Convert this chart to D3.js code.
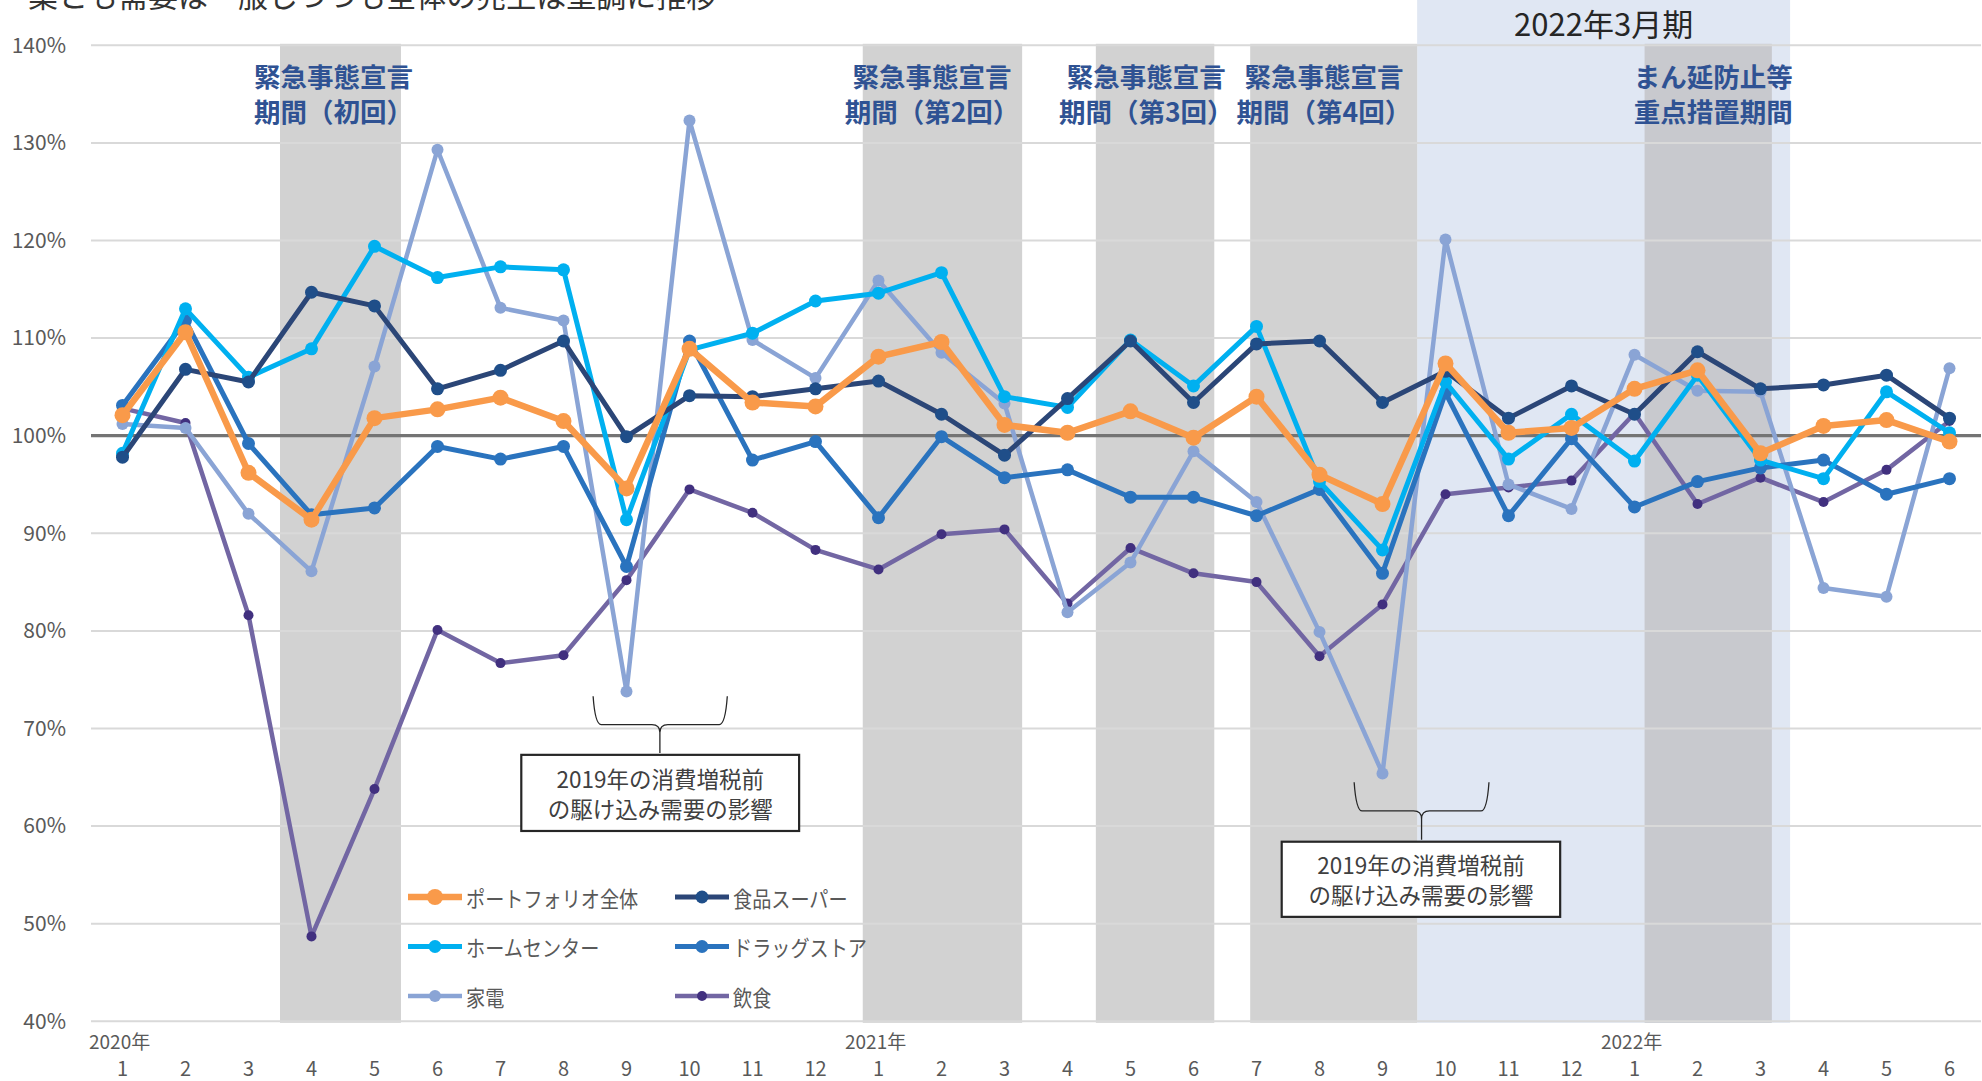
<!DOCTYPE html>
<html><head><meta charset="utf-8">
<script src="https://cdn.jsdelivr.net/npm/d3@7"></script>
<style>
html,body{margin:0;padding:0;background:#fff;}
svg{display:block;font-family:"Noto Sans CJK JP","Noto Sans",sans-serif;}
</style></head><body>
<svg id="chart" width="1982" height="1081"></svg>
<script>
// ---------------- data ----------------
const months = [1,2,3,4,5,6,7,8,9,10,11,12, 1,2,3,4,5,6,7,8,9,10,11,12, 1,2,3,4,5,6];
const yearLabels = [{index:0,label:"2020年"},{index:12,label:"2021年"},{index:24,label:"2022年"}];
const yTicks = [40,50,60,70,80,90,100,110,120,130,140];

const portfolio = [102.1,110.6,96.2,91.4,101.8,102.7,103.9,101.5,94.6,108.9,103.4,103.0,
                   108.1,109.6,101.1,100.3,102.5,99.8,104.0,96.0,93.0,107.4,100.3,100.8,
                   104.8,106.7,98.2,101.0,101.6,99.4];
const foodSuper = [97.8,106.8,105.5,114.7,113.3,104.8,106.7,109.7,99.9,104.1,104.0,104.8,
                   105.6,102.2,98.0,103.8,109.7,103.4,109.4,109.7,103.4,106.6,101.8,105.1,
                   102.2,108.6,104.8,105.2,106.2,101.8];
const homeCenter = [98.2,113.0,106.0,108.9,119.4,116.2,117.3,117.0,91.4,108.8,110.5,113.8,
                    114.6,116.7,104.0,102.9,109.8,105.1,111.2,95.3,88.3,105.5,97.6,102.2,
                    97.4,106.2,97.5,95.6,104.5,100.3];
const drugStore = [103.1,111.8,99.2,91.9,92.6,98.9,97.6,98.9,86.6,109.7,97.5,99.4,
                   91.6,99.9,95.7,96.5,93.7,93.7,91.8,94.5,85.9,104.4,91.8,99.7,
                   92.7,95.3,96.7,97.5,94.0,95.6];
const appliances = [101.2,100.8,92.0,86.1,107.1,129.3,113.1,111.8,73.8,132.3,109.8,105.9,
                    115.9,108.5,103.3,81.9,87.0,98.4,93.2,79.9,65.4,120.1,95.0,92.5,
                    108.3,104.6,104.5,84.4,83.5,106.9];
const restaurants = [102.8,101.3,81.6,48.7,63.8,80.1,76.7,77.5,85.2,94.5,92.1,88.3,
                     86.3,89.9,90.4,82.8,88.5,85.9,85.0,77.4,82.7,94.0,94.7,95.4,
                     102.3,93.0,95.7,93.2,96.5,101.5];

const seriesNames = ["ポートフォリオ全体","食品スーパー","ホームセンター","ドラッグストア","家電","飲食"];

// shaded periods, in month-slot units (0 = left edge of the 2020/1 slot)
const periods = [
  {from:3.0,  to:4.92,  lines:["緊急事態宣言","期間（初回）"], labelAt:3.85},
  {from:12.25,to:14.78, lines:["緊急事態宣言","期間（第2回）"], labelAt:13.35},
  {from:15.95,to:17.83, lines:["緊急事態宣言","期間（第3回）"], labelAt:16.75},
  {from:18.4, to:21.05, lines:["緊急事態宣言","期間（第4回）"], labelAt:19.57},
  {from:24.66,to:26.68, lines:["まん延防止等","重点措置期間"], labelAt:25.75}
];
const fiscalPeriod = {from:21.05, to:26.97, label:"2022年3月期"};

const annotations = [
  {lines:["2019年の消費増税前","の駆け込み需要の影響"],
   brace:{u1:7.97,u2:10.1,uc:9.03,top:73.3,mid:70.4,tip:67.5},
   box:{u1:6.83,u2:11.24,top:67.3,bottom:59.5}},
  {lines:["2019年の消費増税前","の駆け込み需要の影響"],
   brace:{u1:20.05,u2:22.19,uc:21.12,top:64.5,mid:61.55,tip:58.6},
   box:{u1:18.9,u2:23.32,top:58.4,bottom:50.7}}
];

const titleText = "業とも需要は一服しつつも全体の売上は堅調に推移";

// ---------------- styles ----------------
const seriesStyle = [
  {data:restaurants, name:seriesNames[5], line:"#7266A3", dot:"#41307F", w:4.5, r:5},
  {data:appliances,  name:seriesNames[4], line:"#8AA4D5", dot:"#8AA4D5", w:4.5, r:6},
  {data:drugStore,   name:seriesNames[3], line:"#2A73BE", dot:"#2A73BE", w:5, r:6.5},
  {data:homeCenter,  name:seriesNames[2], line:"#00B0F0", dot:"#00B0F0", w:5, r:6.5},
  {data:foodSuper,   name:seriesNames[1], line:"#2B4677", dot:"#1F4E89", w:5, r:6.5},
  {data:portfolio,   name:seriesNames[0], line:"#F99A4A", dot:"#F99A4A", w:6.5, r:8}
];

const svg = d3.select("#chart");
const L = 91, R = 1981, T = 45.3, B = 1021.3;
const x = d3.scaleBand().domain(d3.range(months.length)).range([L,R]).padding(0);
const xu = d3.scaleLinear().domain([0, months.length]).range([L,R]);
const y = d3.scaleLinear().domain([40,140]).range([B,T]);
const cx = i => x(i) + x.bandwidth()/2;

// title (cut off at top, as in the source)
svg.append("text").attr("x",28).attr("y",7).attr("font-size",30).attr("fill","#333")
  .text(titleText);

// fiscal period background
svg.append("rect").attr("x",xu(fiscalPeriod.from)).attr("y",0)
  .attr("width",xu(fiscalPeriod.to)-xu(fiscalPeriod.from)).attr("height",B+1.5)
  .attr("fill","#E0E7F3");
svg.append("text").attr("x",(xu(fiscalPeriod.from)+xu(fiscalPeriod.to))/2).attr("y",22)
  .attr("text-anchor","middle").attr("dominant-baseline","central")
  .attr("font-size",31).attr("fill","#262626").text(fiscalPeriod.label);

// shaded periods
svg.append("g").selectAll("rect").data(periods).join("rect")
  .attr("x",d=>xu(d.from)).attr("width",d=>xu(d.to)-xu(d.from))
  .attr("y",T-1.5).attr("height",B-T+3)
  .attr("fill",(d,i)=> i===4 ? "#C8C9CE" : "#D2D2D2");

// gridlines
svg.append("g").selectAll("line").data(yTicks.filter(t=>t!==100)).join("line")
  .attr("x1",L).attr("x2",R).attr("y1",d=>y(d)).attr("y2",d=>y(d))
  .attr("stroke","#D9D9D9").attr("stroke-width",2);
svg.append("line").attr("x1",L).attr("x2",R).attr("y1",y(100)).attr("y2",y(100))
  .attr("stroke","#747474").attr("stroke-width",3.2);

// y axis
const yAxis = svg.append("g").attr("transform",`translate(${L},0)`)
  .call(d3.axisLeft(y).tickValues(yTicks).tickFormat(d=>d+"%").tickSize(0).tickPadding(25));
yAxis.select(".domain").remove();
yAxis.selectAll("text").attr("font-size",21).attr("fill","#595959")
  .attr("font-family","'Noto Sans CJK JP','Noto Sans',sans-serif");

// x axis (months)
const xAxis = svg.append("g").attr("transform",`translate(0,${B})`)
  .call(d3.axisBottom(x).tickFormat(i=>months[i]).tickSize(0).tickPadding(41));
xAxis.select(".domain").remove();
xAxis.selectAll("text").attr("font-size",20).attr("fill","#595959")
  .attr("font-family","'Noto Sans CJK JP','Noto Sans',sans-serif");

// year labels
svg.append("g").selectAll("text").data(yearLabels).join("text")
  .attr("x",d=>x(d.index)-2).attr("y",1049)
  .attr("font-size",19).attr("fill","#595959").text(d=>d.label);

// period labels (one text element per line)
const periodLines = periods.flatMap(p => p.lines.map((ln,k)=>({text:ln, k, at:p.labelAt})));
svg.append("g").selectAll("text").data(periodLines).join("text")
  .attr("x",d=>xu(d.at)).attr("y",d=>T+30+d.k*35)
  .attr("text-anchor","middle").attr("dominant-baseline","central")
  .attr("font-size",26.5).attr("font-weight","bold").attr("fill","#2F5293")
  .text(d=>d.text);

// annotations
const braceP = (b)=>{
  const x1=xu(b.u1), x2=xu(b.u2), xc=xu(b.uc), yt=y(b.top), ym=y(b.mid), yp=y(b.tip), r=8;
  return `M${x1},${yt} Q${x1+2},${ym} ${x1+r},${ym} L${xc-r},${ym} Q${xc},${ym} ${xc},${ym+r} L${xc},${yp}`+
         ` M${x2},${yt} Q${x2-2},${ym} ${x2-r},${ym} L${xc+r},${ym} Q${xc},${ym} ${xc},${ym+r}`;
};
const ann = svg.append("g").selectAll("g").data(annotations).join("g");
ann.append("path").attr("d",d=>braceP(d.brace)).attr("fill","none")
  .attr("stroke","#262626").attr("stroke-width",1.3);
ann.append("rect").attr("x",d=>xu(d.box.u1)).attr("y",d=>y(d.box.top))
  .attr("width",d=>xu(d.box.u2)-xu(d.box.u1)).attr("height",d=>y(d.box.bottom)-y(d.box.top))
  .attr("fill","#fff").attr("stroke","#262626").attr("stroke-width",2.2);
ann.each(function(d){
  const g = d3.select(this);
  const mx = (xu(d.box.u1)+xu(d.box.u2))/2, my=(y(d.box.top)+y(d.box.bottom))/2;
  d.lines.forEach((ln,k)=>{
    g.append("text").attr("x",mx).attr("y",my+(k-0.5)*30).attr("text-anchor","middle")
     .attr("dominant-baseline","central").attr("font-size",22.5).attr("fill","#404040").text(ln);
  });
});

// series
const line = d3.line().x((d,i)=>cx(i)).y(d=>y(d));
const sg = svg.append("g").selectAll("g").data(seriesStyle).join("g");
sg.append("path").attr("d",d=>line(d.data)).attr("fill","none")
  .attr("stroke",d=>d.line).attr("stroke-width",d=>d.w).attr("stroke-linejoin","round");
sg.each(function(s){
  d3.select(this).selectAll("circle").data(s.data).join("circle")
    .attr("cx",(d,i)=>cx(i)).attr("cy",d=>y(d)).attr("r",s.r).attr("fill",s.dot);
});

// legend
const legendItems = seriesNames.map(n=>seriesStyle.find(s=>s.name===n));
const lg = svg.append("g").selectAll("g").data(legendItems).join("g")
  .attr("transform",(d,i)=>`translate(${i%2===0?408:675},${897+Math.floor(i/2)*49.5})`);
lg.append("line").attr("x1",0).attr("x2",54).attr("y1",0).attr("y2",0)
  .attr("stroke",d=>d.line).attr("stroke-width",d=>d.w);
lg.append("circle").attr("cx",27).attr("cy",0).attr("r",d=>d.r).attr("fill",d=>d.dot);
lg.append("text").attr("transform","translate(58,0) scale(0.87,1)").attr("dominant-baseline","central")
  .attr("font-size",22).attr("fill","#595959").text(d=>d.name);
</script>
</body></html>
